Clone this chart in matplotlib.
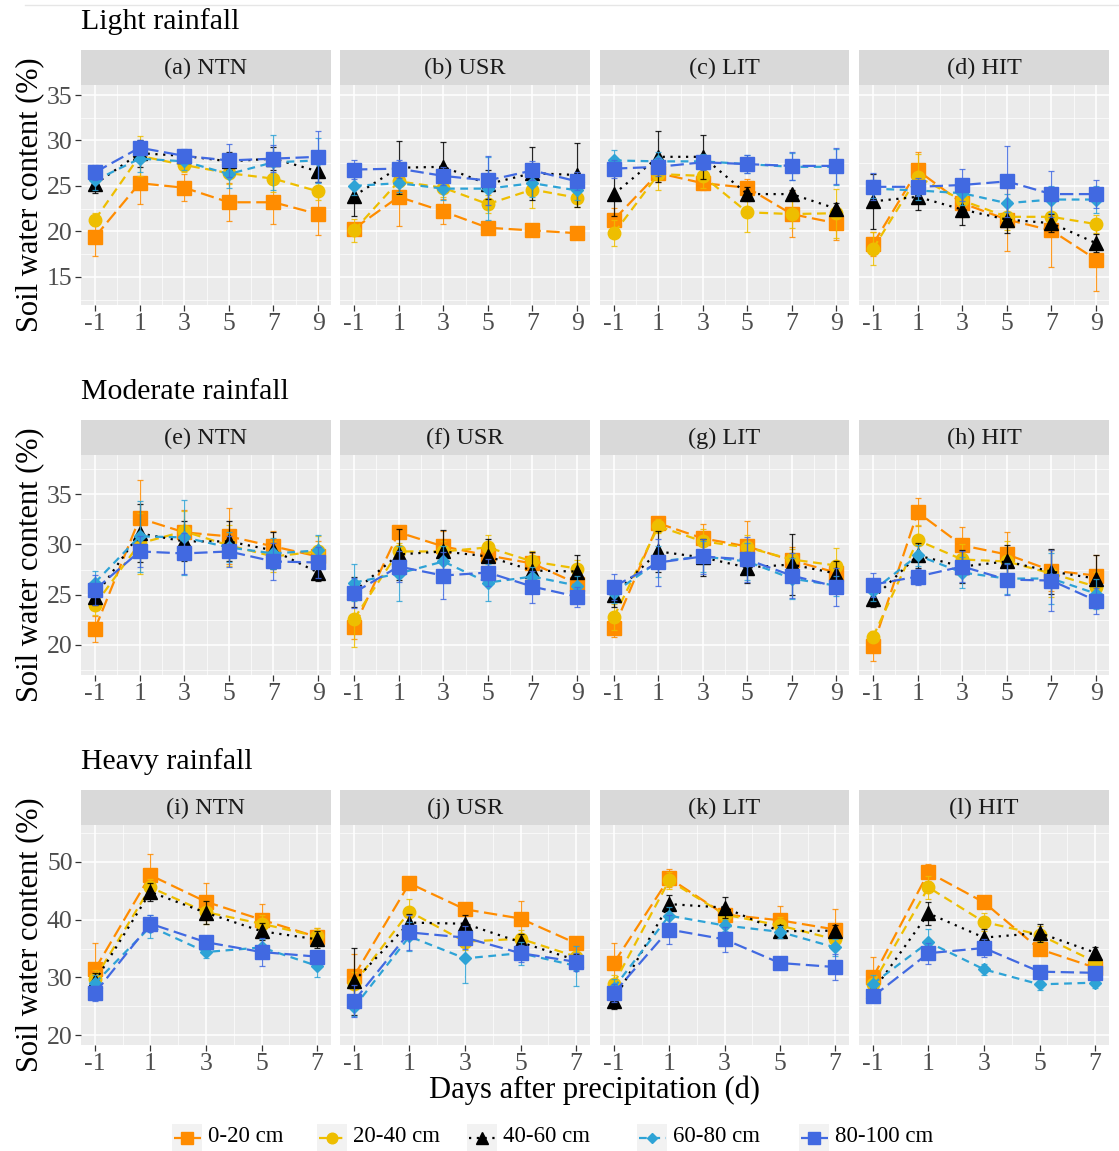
import matplotlib
matplotlib.use("Agg")
import matplotlib.pyplot as plt
from matplotlib.lines import Line2D
import numpy as np

plt.rcParams['font.family'] = ['Liberation Serif', 'DejaVu Serif']

# ---------------- data ----------------
depths = ["0-20 cm", "20-40 cm", "40-60 cm", "60-80 cm", "80-100 cm"]
days_light = [-1, 1, 3, 5, 7, 9]
days_moderate = [-1, 1, 3, 5, 7, 9]
days_heavy = [-1, 1, 3, 5, 7]
treatments = ["NTN", "USR", "LIT", "HIT"]
row_titles = ["Light rainfall", "Moderate rainfall", "Heavy rainfall"]
panel_letters = ["a", "b", "c", "d", "e", "f", "g", "h", "i", "j", "k", "l"]

# Light rainfall (rows: 0-20, 20-40, 40-60, 60-80, 80-100 cm)
light_NTN = [[19.4, 25.3, 24.8, 23.2, 23.2, 21.9],
             [21.3, 28.3, 27.3, 26.4, 25.8, 24.4],
             [25.2, 28.6, 28.3, 27.7, 28.0, 26.6],
             [25.6, 28.0, 27.7, 26.3, 27.6, 27.8],
             [26.5, 29.2, 28.3, 27.8, 28.0, 28.2]]
light_NTN_err = [[2.1, 2.3, 1.5, 2.1, 2.4, 2.3],
                 [0.7, 2.2, 0.8, 1.2, 1.5, 1.0],
                 [1.0, 1.5, 0.5, 1.0, 1.3, 1.2],
                 [1.0, 1.5, 1.0, 1.5, 3.0, 2.5],
                 [0.8, 0.8, 0.8, 1.8, 1.5, 2.8]]
light_USR = [[20.3, 23.8, 22.2, 20.4, 20.1, 19.8],
             [20.1, 25.5, 24.8, 23.0, 24.6, 23.7],
             [23.9, 27.0, 27.1, 25.2, 26.4, 26.2],
             [25.0, 25.3, 24.7, 24.7, 25.3, 24.5],
             [26.8, 26.9, 26.1, 25.6, 26.7, 25.5]]
light_USR_err = [[0.5, 3.2, 1.4, 0.7, 0.4, 0.5],
                 [1.3, 1.5, 1.0, 1.0, 2.0, 1.0],
                 [2.2, 2.9, 2.7, 1.6, 2.9, 3.5],
                 [1.0, 1.0, 1.3, 3.5, 1.5, 1.0],
                 [1.0, 1.0, 1.0, 2.7, 1.0, 1.0]]
light_LIT = [[21.3, 26.4, 25.3, 24.8, 21.9, 20.9],
             [19.8, 26.3, 26.1, 22.1, 21.9, 22.0],
             [24.1, 28.2, 28.2, 24.1, 24.1, 22.5],
             [27.8, 27.7, 27.7, 27.4, 27.1, 27.1],
             [26.9, 27.1, 27.6, 27.4, 27.2, 27.2]]
light_LIT_err = [[1.3, 1.0, 0.8, 1.0, 2.5, 1.8],
                 [1.4, 1.8, 1.3, 2.2, 1.5, 2.7],
                 [2.4, 2.8, 2.4, 0.8, 0.5, 0.6],
                 [1.2, 1.0, 0.8, 1.0, 1.5, 2.0],
                 [1.0, 1.0, 0.8, 1.0, 1.5, 2.0]]
light_HIT = [[18.6, 26.7, 23.1, 21.3, 20.1, 16.9],
             [18.1, 26.0, 23.4, 21.6, 21.6, 20.8],
             [23.3, 23.8, 22.4, 21.3, 20.9, 18.7],
             [24.7, 24.5, 24.2, 23.1, 23.5, 23.5],
             [24.9, 24.9, 25.1, 25.5, 24.1, 24.1]]
light_HIT_err = [[1.3, 2.0, 1.5, 3.5, 4.0, 3.5],
                 [1.8, 2.5, 1.0, 1.5, 1.5, 1.0],
                 [3.0, 1.5, 1.7, 1.5, 1.0, 1.0],
                 [1.0, 1.0, 1.3, 1.0, 1.5, 1.5],
                 [1.5, 1.0, 1.8, 3.9, 2.5, 1.5]]

# Moderate rainfall
moderate_NTN = [[21.6, 32.6, 31.2, 30.8, 29.8, 28.8],
                [24.0, 30.1, 31.3, 29.9, 28.8, 29.3],
                [24.8, 31.1, 30.3, 30.3, 29.4, 27.2],
                [26.2, 30.8, 30.7, 29.7, 29.1, 29.4],
                [25.5, 29.3, 29.1, 29.3, 28.3, 28.2]]
moderate_NTN_err = [[1.3, 3.8, 2.2, 2.8, 1.5, 1.5],
                    [1.0, 3.0, 2.0, 2.0, 1.5, 1.5],
                    [0.8, 2.9, 2.0, 2.0, 1.8, 0.8],
                    [1.2, 3.5, 3.7, 1.5, 1.5, 1.5],
                    [1.5, 1.5, 2.0, 1.5, 1.8, 1.5]]
moderate_USR = [[21.8, 31.2, 29.8, 28.9, 28.1, 26.1],
                [22.6, 29.3, 29.3, 29.7, 28.3, 27.6],
                [25.3, 29.0, 29.3, 28.8, 27.4, 27.3],
                [26.2, 27.1, 28.3, 26.2, 26.8, 25.9],
                [25.2, 27.8, 26.9, 27.2, 25.8, 24.8]]
moderate_USR_err = [[1.2, 0.6, 1.5, 1.0, 1.0, 1.0],
                    [2.8, 0.8, 1.0, 1.2, 1.0, 0.8],
                    [1.5, 2.5, 2.1, 1.7, 1.8, 1.6],
                    [1.8, 2.7, 1.5, 1.8, 1.0, 1.0],
                    [1.5, 1.5, 2.3, 1.3, 1.6, 1.0]]
moderate_LIT = [[21.7, 32.1, 30.6, 29.8, 28.4, 27.2],
                [22.8, 31.8, 30.3, 29.7, 28.5, 27.9],
                [25.0, 29.3, 28.7, 27.7, 28.0, 27.1],
                [25.2, 28.3, 28.8, 28.3, 26.6, 25.9],
                [25.8, 28.2, 28.8, 28.5, 26.9, 25.8]]
moderate_LIT_err = [[0.9, 0.6, 1.4, 2.5, 1.3, 1.0],
                    [1.3, 0.7, 1.2, 1.2, 1.0, 1.7],
                    [1.2, 2.0, 1.8, 1.5, 3.0, 1.2],
                    [1.0, 1.5, 1.5, 1.8, 2.0, 1.0],
                    [1.3, 2.3, 1.7, 2.2, 2.2, 1.9]]
moderate_HIT = [[19.9, 33.2, 29.9, 29.0, 27.4, 26.9],
                [20.8, 30.4, 28.5, 28.3, 27.1, 25.8],
                [24.6, 28.9, 27.8, 28.3, 27.3, 26.6],
                [25.4, 28.9, 27.2, 26.6, 26.6, 25.1],
                [26.0, 26.8, 27.8, 26.5, 26.4, 24.4]]
moderate_HIT_err = [[1.5, 1.4, 1.8, 2.2, 2.0, 2.0],
                    [0.5, 1.5, 1.5, 2.0, 2.3, 1.5],
                    [0.8, 1.2, 1.6, 1.6, 2.2, 2.3],
                    [1.0, 1.0, 1.5, 1.5, 2.5, 1.5],
                    [1.2, 0.8, 1.5, 1.5, 3.0, 1.3]]

# Heavy rainfall
heavy_NTN = [[31.4, 47.7, 43.1, 40.0, 37.0],
             [29.8, 45.6, 41.3, 39.3, 37.1],
             [29.3, 44.8, 41.2, 38.0, 36.6],
             [29.0, 38.8, 34.4, 35.2, 32.0],
             [27.3, 39.3, 36.1, 34.4, 33.6]]
heavy_NTN_err = [[4.5, 3.7, 3.2, 2.7, 1.5],
                 [1.5, 1.5, 2.0, 1.5, 1.5],
                 [1.5, 1.5, 2.0, 1.5, 1.5],
                 [1.5, 2.0, 1.0, 1.5, 2.0],
                 [1.3, 1.5, 1.0, 2.5, 1.0]]
heavy_USR = [[30.2, 46.3, 41.8, 40.2, 35.9],
             [28.9, 41.4, 36.2, 36.7, 33.6],
             [29.3, 39.5, 39.3, 36.1, 33.0],
             [24.8, 37.1, 33.3, 34.2, 32.0],
             [25.9, 37.8, 36.9, 34.2, 32.7]]
heavy_USR_err = [[3.8, 0.8, 0.8, 3.0, 1.0],
                 [2.0, 2.2, 1.5, 1.5, 1.0],
                 [5.8, 1.5, 1.5, 1.5, 1.0],
                 [1.5, 2.5, 4.3, 2.0, 3.5],
                 [2.8, 3.0, 2.0, 1.5, 1.5]]
heavy_LIT = [[32.5, 47.2, 40.9, 39.9, 38.3],
             [28.9, 46.8, 40.9, 39.0, 36.6],
             [26.0, 42.7, 42.1, 38.0, 38.1],
             [28.2, 40.7, 39.0, 37.9, 35.2],
             [27.3, 38.3, 36.6, 32.5, 31.8]]
heavy_LIT_err = [[3.4, 1.5, 1.0, 2.5, 3.5],
                 [1.5, 1.5, 1.0, 1.5, 1.5],
                 [1.5, 1.5, 1.8, 1.0, 1.0],
                 [1.5, 1.5, 1.0, 1.0, 1.5],
                 [1.5, 2.5, 2.2, 1.0, 2.3]]
heavy_HIT = [[30.0, 48.2, 43.0, 34.9, 31.7],
             [28.9, 45.6, 39.6, 37.4, 32.7],
             [27.6, 41.1, 36.9, 37.7, 34.3],
             [28.9, 36.1, 31.4, 28.8, 29.1],
             [26.7, 34.2, 35.1, 31.0, 30.8]]
heavy_HIT_err = [[3.5, 1.5, 1.0, 1.0, 1.0],
                 [1.5, 2.0, 1.5, 1.5, 1.0],
                 [1.0, 2.0, 1.5, 1.5, 1.0],
                 [1.5, 2.3, 1.0, 1.0, 1.0],
                 [1.0, 1.8, 1.5, 1.0, 1.0]]

# ---------------- styles ----------------
colors = ["#FF8C00", "#EEBE00", "#000000", "#2EA3D6", "#4169E1"]
markers = ["s", "o", "^", "D", "s"]
msizes = [9.5, 9.0, 10.0, 6.0, 9.5]
dashes = [(6, 2.5), (4, 2.5), (1, 2.5), (3.5, 2.5), (6, 2.5)]

W, H = 1119, 1151
fig = plt.figure(figsize=(W / 100, H / 100), dpi=100)

def px_axes(x0, y0, x1, y1):
    return fig.add_axes([x0 / W, 1 - y1 / H, (x1 - x0) / W, (y1 - y0) / H])

col_x = [(81, 331), (340, 590), (600, 849), (859, 1109)]
row_y = [(50, 85, 305), (420, 455, 675), (790, 825, 1045)]
row_days = [days_light, days_moderate, days_heavy]
row_data = [[light_NTN, light_USR, light_LIT, light_HIT],
            [moderate_NTN, moderate_USR, moderate_LIT, moderate_HIT],
            [heavy_NTN, heavy_USR, heavy_LIT, heavy_HIT]]
row_err = [[light_NTN_err, light_USR_err, light_LIT_err, light_HIT_err],
           [moderate_NTN_err, moderate_USR_err, moderate_LIT_err, moderate_HIT_err],
           [heavy_NTN_err, heavy_USR_err, heavy_LIT_err, heavy_HIT_err]]
row_ylim = [(11.9, 36.1), (17.0, 38.9), (18.3, 56.4)]
row_yticks = [[15, 20, 25, 30, 35], [20, 25, 30, 35], [20, 30, 40, 50]]
row_yminor = [[12.5, 17.5, 22.5, 27.5, 32.5], [17.5, 22.5, 27.5, 32.5, 37.5], [25, 35, 45, 55]]
row_xlim = [(-1.63, 9.58), (-1.63, 9.58), (-1.5, 7.5)]
row_xminor = [[0, 2, 4, 6, 8], [0, 2, 4, 6, 8], [0, 2, 4, 6]]

tick_fs = 18.5
k = 0
for r in range(3):
    ys, yp0, yp1 = row_y[r]
    days = row_days[r]
    fig.text(81 / W, 1 - (ys - 28) / H, row_titles[r], fontsize=21.5,
             ha="left", va="center", color="#000000")
    fig.text(30 / W, 1 - ((yp0 + yp1) / 2 + 0) / H, "Soil water content (%)",
             fontsize=22, rotation=90, ha="center", va="center", color="#000000")
    for c in range(4):
        x0, x1 = col_x[c]
        sax = px_axes(x0, ys, x1, yp0)
        sax.set_facecolor("#D9D9D9")
        sax.set_xticks([]); sax.set_yticks([])
        for s in sax.spines.values():
            s.set_visible(False)
        sax.text(0.5, 0.47, f"({panel_letters[k]}) {treatments[c]}", transform=sax.transAxes,
                 ha="center", va="center", fontsize=17.5, color="#1A1A1A")
        ax = px_axes(x0, yp0, x1, yp1)
        ax.set_facecolor("#EBEBEB")
        for s in ax.spines.values():
            s.set_visible(False)
        ax.set_xlim(*row_xlim[r])
        ax.set_ylim(*row_ylim[r])
        ax.set_xticks(days)
        ax.set_xticks(row_xminor[r], minor=True)
        ax.set_yticks(row_yticks[r])
        ax.set_yticks(row_yminor[r], minor=True)
        ax.grid(True, which="major", color="white", lw=1.1)
        ax.grid(True, which="minor", color="white", lw=0.5)
        ax.set_axisbelow(True)
        ax.tick_params(which="major", length=4, width=0.9, color="#333333",
                       labelsize=tick_fs, labelcolor="#4D4D4D", pad=2)
        ax.tick_params(which="minor", length=0)
        ax.set_xticklabels([str(d) for d in days])
        if c != 0:
            ax.tick_params(axis="y", which="major", left=False, labelleft=False)
        data = row_data[r][c]
        err = row_err[r][c]
        for i in range(5):
            ax.errorbar(days, data[i], yerr=err[i], fmt="none", ecolor=colors[i],
                        elinewidth=0.9, capsize=2.5, capthick=0.9, zorder=2 + i, alpha=0.85)
            ax.plot(days, data[i], color=colors[i], lw=1.6, dashes=dashes[i],
                    marker=markers[i], ms=msizes[i], mec=colors[i], mfc=colors[i],
                    zorder=3 + i)
        k += 1

fig.text(595 / W, 1 - 1090 / H, "Days after precipitation (d)", fontsize=22,
         ha="center", va="center", color="#000000")

# top faint rule
fig.add_artist(Line2D([25 / W, 1.0], [1 - 5 / H, 1 - 5 / H], color="#E6E6E6", lw=1))

# legend (manual)
key_x = [175, 320, 470, 640, 802]
for i in range(5):
    kx = key_x[i]
    kax = px_axes(kx - 3, 1124, kx + 27, 1151)
    kax.set_facecolor("#F2F2F2")
    kax.set_xlim(0, 1); kax.set_ylim(0, 1)
    kax.set_xticks([]); kax.set_yticks([])
    for s in kax.spines.values():
        s.set_visible(False)
    kax.plot([0.05, 0.95], [0.5, 0.5], color=colors[i], lw=1.6, dashes=dashes[i])
    kax.plot([0.5], [0.5], color=colors[i], marker=markers[i],
             ms=msizes[i] * 0.85, mec=colors[i], mfc=colors[i])
    fig.text((kx + 33) / W, 1 - 1137 / H, depths[i], fontsize=16.5,
             ha="left", va="center", color="#000000")

fig.savefig("out.png", dpi=100, facecolor="white")
